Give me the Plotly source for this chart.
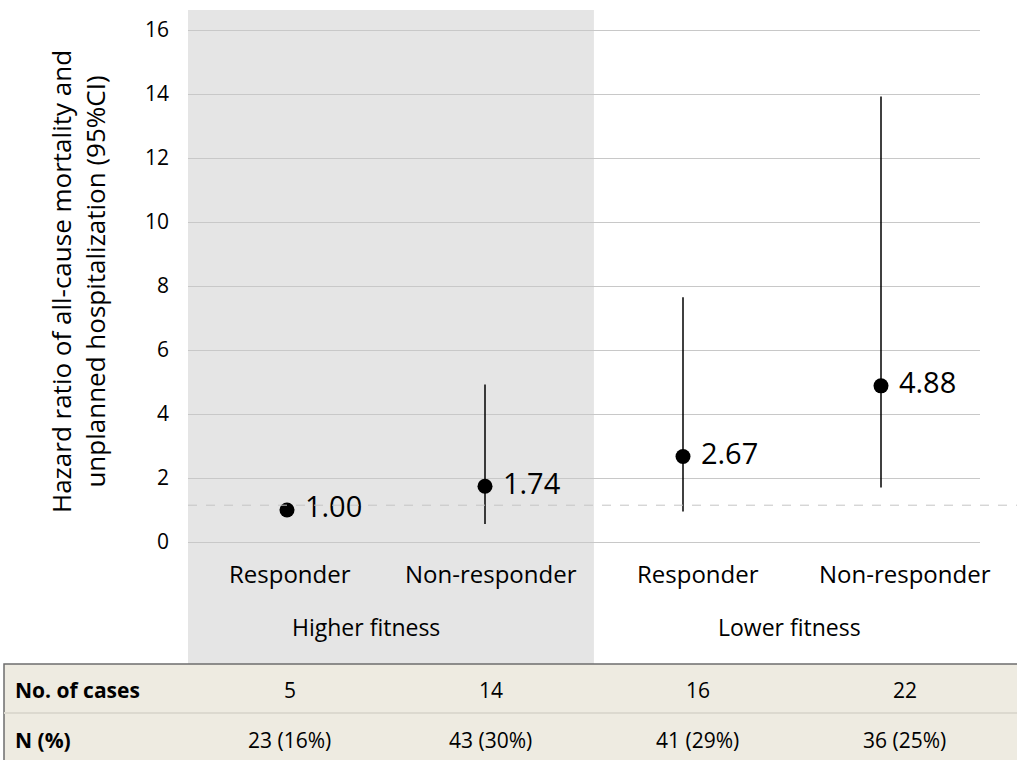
import plotly.graph_objects as go

# ---- data ----
categories = ["Responder", "Non-responder", "Responder", "Non-responder"]
groups = ["Higher fitness", "Lower fitness"]
hr = [1.00, 1.74, 2.67, 4.88]
ci_low = [1.00, 0.56, 0.95, 1.70]
ci_high = [1.00, 4.92, 7.65, 13.92]
n_cases = ["5", "14", "16", "22"]
n_pct = ["23 (16%)", "43 (30%)", "41 (29%)", "36 (25%)"]
row_labels = ["No. of cases", "N (%)"]
yticks = [0, 2, 4, 6, 8, 10, 12, 14, 16]
ref_line = 1.15

FONT = "Open Sans"
xs = list(range(len(categories)))
label_dx = [0.015, 0.03, 0.075, 0.12]   # label/table column offsets (axis units)

fig = go.Figure()
fig.add_trace(go.Scatter(
    x=xs, y=hr, mode="markers+text",
    marker=dict(color="black", size=15),
    text=[" " + f"{v:.2f}" for v in hr],
    textposition="middle right",
    textfont=dict(family=FONT, size=29, color="black"),
    error_y=dict(type="data", symmetric=False,
                 array=[h - v for h, v in zip(ci_high, hr)],
                 arrayminus=[v - l for v, l in zip(hr, ci_low)],
                 color="black", thickness=1.5, width=0),
    cliponaxis=False, showlegend=False,
))

H = 760
top, bottom = 10, 200
plot_h = H - top - bottom  # 550
def py(pix):
    return (H - bottom - pix) / plot_h
def px(pix):
    return (pix - 188) / 792

shapes = []
shapes.append(dict(type="rect", xref="x", yref="paper", x0=-0.5, x1=1.55,
                   y0=py(664), y1=1, fillcolor="#e5e5e5", line_width=0, layer="below"))
shapes.append(dict(type="rect", xref="paper", yref="paper",
                   x0=px(4), x1=px(1030), y0=py(770), y1=py(664),
                   fillcolor="#eeebe1", line=dict(color="#6e6e6e", width=1.5), layer="below"))
shapes.append(dict(type="line", xref="paper", yref="paper",
                   x0=px(4), x1=px(1030), y0=py(713), y1=py(713),
                   line=dict(color="#dcd9cf", width=2)))
shapes.append(dict(type="line", xref="paper", yref="y",
                   x0=0, x1=px(1030), y0=ref_line, y1=ref_line,
                   line=dict(color="#c4c4c4", width=1, dash="dash")))

annotations = []
for xi, c, dx in zip(xs, categories, label_dx):
    annotations.append(dict(x=xi + dx, y=py(573), xref="x", yref="paper", yanchor="middle",
                            text=c, showarrow=False,
                            font=dict(family=FONT, size=24, color="black")))
for i, g in enumerate(groups):
    annotations.append(dict(x=[0.4, 2.54][i], y=py(627), xref="x", yref="paper",
                            yanchor="middle", text=g, showarrow=False,
                            font=dict(family=FONT, size=23, color="black")))
for r, (lab, vals) in enumerate(zip(row_labels, [n_cases, n_pct])):
    ypix = 690 if r == 0 else 740
    annotations.append(dict(x=px(13), y=py(ypix), xref="paper", yref="paper", yanchor="middle",
                            text="<b>" + lab + "</b>", showarrow=False, xanchor="left",
                            font=dict(family=FONT, size=21, color="black")))
    for xi, v, dx in zip(xs, vals, label_dx):
        annotations.append(dict(x=xi + dx, y=py(ypix), xref="x", yref="paper", yanchor="middle",
                                text=v, showarrow=False,
                                font=dict(family=FONT, size=21, color="black")))
annotations.append(dict(x=px(78), y=py(282), xref="paper", yref="paper",
                        xanchor="center", yanchor="middle",
                        text="Hazard ratio of all-cause mortality and<br>unplanned hospitalization (95%CI)",
                        showarrow=False, textangle=-90,
                        font=dict(family=FONT, size=26, color="black")))

fig.update_layout(
    width=1017, height=760,
    margin=dict(l=188, r=1017 - 980, t=top, b=bottom),
    paper_bgcolor="white", plot_bgcolor="rgba(0,0,0,0)",
    shapes=shapes, annotations=annotations,
    font=dict(family=FONT, color="black"),
    xaxis=dict(range=[-0.5, 3.5], tickvals=xs, ticktext=[""] * len(xs),
               showgrid=False, zeroline=False, showline=False, ticks=""),
    yaxis=dict(range=[(542 - 560) / 32, (542 - 10) / 32], tickvals=yticks,
               showgrid=True, gridcolor="#c8c8c8", gridwidth=1,
               zeroline=False, showline=False,
               tickfont=dict(family=FONT, size=21, color="black"),
               ticklabelstandoff=18),
)

fig.write_html("out.html")
